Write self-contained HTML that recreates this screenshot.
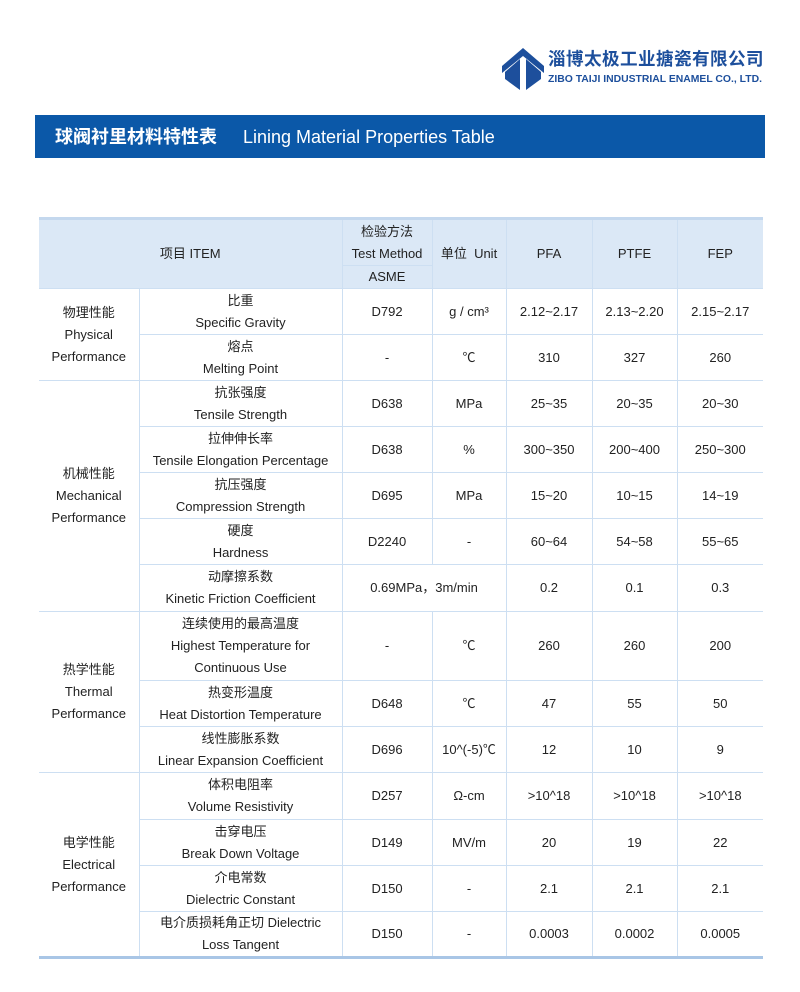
<!DOCTYPE html>
<html><head><meta charset="utf-8">
<style>
html,body{margin:0;padding:0;background:#fff;}
body{width:800px;height:992px;position:relative;overflow:hidden;font-family:"Liberation Sans","Noto Sans CJK SC",sans-serif;color:#222;}
.logo-cn{position:absolute;left:548px;top:47px;font-size:17.6px;font-weight:bold;color:#1d4f9c;letter-spacing:0.4px;font-family:"Noto Sans CJK SC",sans-serif;line-height:24px;}
.logo-en{position:absolute;left:548px;top:73px;font-size:10.4px;font-weight:bold;color:#1d4f9c;line-height:13px;}
.banner{position:absolute;left:35px;top:115px;width:730px;height:43px;background:#0b58a8;color:#fff;}
.banner span.cn{position:absolute;left:20px;top:9px;font-size:18px;font-weight:bold;font-family:"Noto Sans CJK SC",sans-serif;line-height:24px;}
.banner span.en{position:absolute;left:208px;top:10px;font-size:18px;line-height:24px;}
table{position:absolute;left:39px;top:217px;border-collapse:collapse;table-layout:fixed;width:724px;border-top:3px solid #c4d8ee;border-bottom:3px solid #a9c6e6;}
td{border:1px solid #cddff2;text-align:center;vertical-align:middle;font-size:13px;line-height:22px;padding:0;}
tr td:first-child{border-left:none;}
tr td:last-child{border-right:none;}
.h td{background:#dbe8f6;}
</style></head><body>
<svg style="position:absolute;left:500px;top:46px" width="46" height="46" viewBox="0 0 46 46">
<polygon points="23,2 44,20 44,27 23,10 2,27 2,20" fill="#1d4f9c"/>
<polygon points="20,13 20,44 5,33 5,26" fill="#1d4f9c"/>
<polygon points="26,13 26,44 41,33 41,26" fill="#1d4f9c"/>
</svg>
<div class="logo-cn">淄博太极工业搪瓷有限公司</div>
<div class="logo-en">ZIBO TAIJI INDUSTRIAL ENAMEL CO., LTD.</div>
<div class="banner"><span class="cn">球阀衬里材料特性表</span><span class="en">Lining Material Properties Table</span></div>
<table>
<colgroup><col style="width:100px"><col style="width:203px"><col style="width:90px"><col style="width:74px"><col style="width:86px"><col style="width:85px"><col style="width:86px"></colgroup>
<tr class="h" style="height:47px"><td colspan="2" rowspan="2">项目 ITEM</td><td>检验方法<br>Test Method</td><td rowspan="2">单位&nbsp; Unit</td><td rowspan="2">PFA</td><td rowspan="2">PTFE</td><td rowspan="2">FEP</td></tr>
<tr class="h" style="height:23px"><td>ASME</td></tr>
<tr style="height:46px"><td rowspan="2">物理性能<br>Physical<br>Performance</td><td>比重<br>Specific Gravity</td><td>D792</td><td>g / cm³</td><td>2.12~2.17</td><td>2.13~2.20</td><td>2.15~2.17</td></tr>
<tr style="height:46px"><td>熔点<br>Melting Point</td><td>-</td><td>℃</td><td>310</td><td>327</td><td>260</td></tr>
<tr style="height:46px"><td rowspan="5">机械性能<br>Mechanical<br>Performance</td><td>抗张强度<br>Tensile Strength</td><td>D638</td><td>MPa</td><td>25~35</td><td>20~35</td><td>20~30</td></tr>
<tr style="height:46px"><td>拉伸伸长率<br>Tensile Elongation Percentage</td><td>D638</td><td>%</td><td>300~350</td><td>200~400</td><td>250~300</td></tr>
<tr style="height:46px"><td>抗压强度<br>Compression Strength</td><td>D695</td><td>MPa</td><td>15~20</td><td>10~15</td><td>14~19</td></tr>
<tr style="height:46px"><td>硬度<br>Hardness</td><td>D2240</td><td>-</td><td>60~64</td><td>54~58</td><td>55~65</td></tr>
<tr style="height:47px"><td>动摩擦系数<br>Kinetic Friction Coefficient</td><td colspan="2">0.69MPa，3m/min</td><td>0.2</td><td>0.1</td><td>0.3</td></tr>
<tr style="height:69px"><td rowspan="3">热学性能<br>Thermal<br>Performance</td><td>连续使用的最高温度<br>Highest Temperature for<br>Continuous Use</td><td>-</td><td>℃</td><td>260</td><td>260</td><td>200</td></tr>
<tr style="height:46px"><td>热变形温度<br>Heat Distortion Temperature</td><td>D648</td><td>℃</td><td>47</td><td>55</td><td>50</td></tr>
<tr style="height:46px"><td>线性膨胀系数<br>Linear Expansion Coefficient</td><td>D696</td><td>10^(-5)℃</td><td>12</td><td>10</td><td>9</td></tr>
<tr style="height:47px"><td rowspan="4">电学性能<br>Electrical<br>Performance</td><td>体积电阻率<br>Volume Resistivity</td><td>D257</td><td>Ω-cm</td><td>&gt;10^18</td><td>&gt;10^18</td><td>&gt;10^18</td></tr>
<tr style="height:46px"><td>击穿电压<br>Break Down Voltage</td><td>D149</td><td>MV/m</td><td>20</td><td>19</td><td>22</td></tr>
<tr style="height:46px"><td>介电常数<br>Dielectric Constant</td><td>D150</td><td>-</td><td>2.1</td><td>2.1</td><td>2.1</td></tr>
<tr style="height:46px"><td>电介质损耗角正切 Dielectric<br>Loss Tangent</td><td>D150</td><td>-</td><td>0.0003</td><td>0.0002</td><td>0.0005</td></tr>
</table>
</body></html>
